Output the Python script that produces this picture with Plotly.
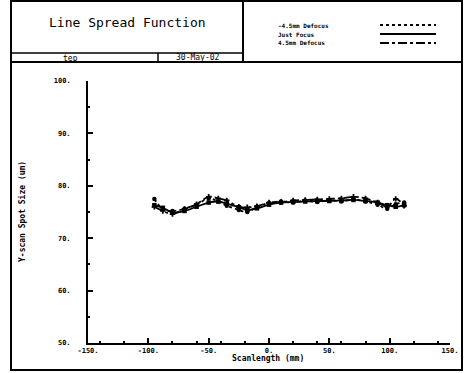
import plotly.graph_objects as go

W, H = 464, 373

scan_x = [-95, -88, -80, -70, -60, -50, -42, -35, -25, -18, -10, 0, 10, 20, 30, 40, 50, 60, 70, 80, 90, 98, 105, 112]
just_focus = [76.3, 75.8, 74.9, 75.2, 76.0, 76.8, 77.0, 76.6, 75.9, 75.4, 75.7, 76.4, 76.8, 76.9, 77.0, 77.1, 77.1, 77.2, 77.3, 77.1, 76.8, 76.3, 76.0, 76.3]
defocus_minus = [77.5, 75.6, 75.2, 75.6, 76.4, 77.6, 77.0, 76.2, 75.4, 75.0, 76.0, 76.7, 77.0, 76.8, 77.2, 76.9, 77.3, 77.0, 77.4, 77.0, 76.4, 75.6, 76.5, 76.8]
defocus_plus = [76.0, 75.2, 74.6, 75.6, 76.5, 77.9, 77.6, 77.2, 76.0, 75.9, 76.1, 76.8, 76.9, 77.2, 77.3, 77.4, 77.5, 77.6, 77.9, 77.6, 76.8, 76.0, 77.5, 76.2]

x_ticks = [-150, -100, -50, 0, 50, 100, 150]
x_tick_labels = ["-150.", "-100.", "-50.", "0.", "50.", "100.", "150."]
y_ticks = [50, 60, 70, 80, 90, 100]
y_tick_labels = ["50.", "60.", "70.", "80.", "90.", "100."]

series_names = ["-4.5mm Defocus", "Just Focus", "4.5mm Defocus"]
series_dash = ["dot", "solid", "dashdot"]

def px(x):
    return x / W

def py(y):
    return 1 - y / H

fig = go.Figure()
for name, vals, dash, sym in [
    (series_names[0], defocus_minus, series_dash[0], "circle"),
    (series_names[1], just_focus, series_dash[1], "square"),
    (series_names[2], defocus_plus, series_dash[2], "cross"),
]:
    fig.add_trace(go.Scatter(
        x=scan_x, y=vals, mode="lines+markers", name=name,
        line=dict(color="black", width=1.8, dash=dash, shape="spline"),
        marker=dict(color="black", size=4.5, symbol=sym),
        showlegend=False,
    ))

mono = "DejaVu Sans Mono"
shapes = []
def rect(x0, y0, x1, y1, w=1.5):
    shapes.append(dict(type="rect", xref="paper", yref="paper",
                       x0=px(x0), x1=px(x1), y0=py(y0), y1=py(y1),
                       line=dict(color="black", width=w)))
def line(x0, y0, x1, y1, w=1.5, dash="solid"):
    shapes.append(dict(type="line", xref="paper", yref="paper",
                       x0=px(x0), x1=px(x1), y0=py(y0), y1=py(y1),
                       line=dict(color="black", width=w, dash=dash)))

rect(11, 1, 462, 370, 2)
line(11, 62, 462, 62, 2)
line(243, 1, 243, 62, 2)
line(11, 53, 243, 53, 1.5)
line(158, 53, 158, 62, 1.5)

annotations = [
    dict(x=px(127), y=py(22), text="Line Spread Function", font=dict(family=mono, size=13, color="black")),
    dict(x=px(70), y=py(58), text="tep", font=dict(family=mono, size=8, color="black")),
    dict(x=px(198), y=py(57.5), text="30-May-02", font=dict(family=mono, size=8, color="black")),
    dict(x=px(22), y=py(212), text="Y-scan Spot Size (um)", textangle=-90, font=dict(family=mono, size=8, color="black", weight="bold")),
    dict(x=px(268), y=py(358), text="Scanlength (mm)", font=dict(family=mono, size=8, color="black", weight="bold")),
]
leg_y = [25, 34, 43]
for name, dash, yy in zip(series_names, series_dash, leg_y):
    annotations.append(dict(x=px(276), y=py(yy), text=name, xanchor="left",
                            font=dict(family=mono, size=6, color="black", weight="bold")))
    line(380, yy, 436, yy, 2.2 if dash == "solid" else 2, dash)

for a in annotations:
    a.setdefault("xref", "paper")
    a.setdefault("yref", "paper")
    a.setdefault("xanchor", "center")
    a.setdefault("yanchor", "middle")
    a.setdefault("showarrow", False)

tick_font = dict(family=mono, size=7, color="black", weight="bold")
fig.update_layout(
    width=W, height=H,
    margin=dict(l=0, r=0, t=0, b=0, autoexpand=False),
    paper_bgcolor="white", plot_bgcolor="white",
    shapes=shapes, annotations=annotations,
    xaxis=dict(domain=[px(88), px(450)], range=[-150, 150], automargin=False,
               tickvals=x_ticks, ticktext=x_tick_labels,
               showgrid=False, zeroline=False, showline=True, linecolor="black", linewidth=2,
               ticks="inside", ticklen=5, tickwidth=2, tickcolor="black",
               minor=dict(ticks="inside", ticklen=2, tickcolor="black", nticks=5),
               tickfont=tick_font),
    yaxis=dict(domain=[py(343), py(81)], range=[50, 100], automargin=False,
               tickvals=y_ticks, ticktext=y_tick_labels,
               showgrid=False, zeroline=False, showline=True, linecolor="black", linewidth=2,
               ticks="inside", ticklen=5, tickwidth=2, tickcolor="black",
               minor=dict(ticks="inside", ticklen=2, tickcolor="black", nticks=5),
               tickfont=tick_font, ticklabelstandoff=14),
)

fig.write_html("out.html", config={"displayModeBar": False},
               post_script="document.body.style.margin='0';document.body.style.overflow='hidden';")
